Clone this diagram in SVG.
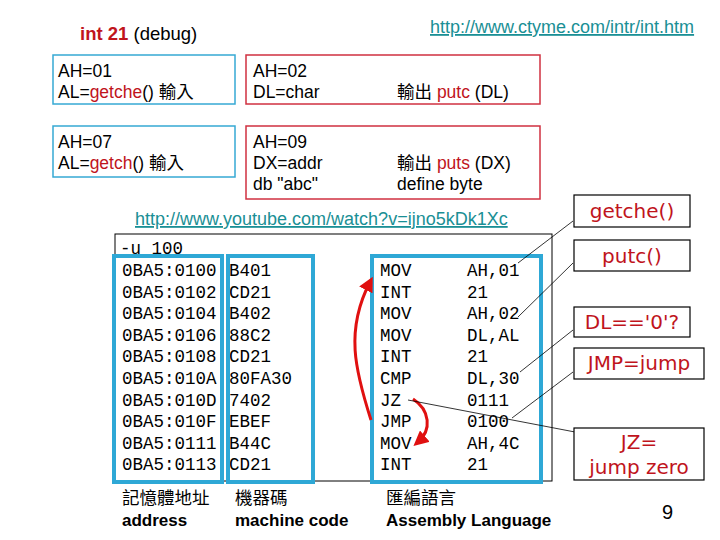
<svg xmlns="http://www.w3.org/2000/svg" width="720" height="540" viewBox="0 0 720 540">
<style>
.s{font-family:"Liberation Sans",Arial,"Noto Sans CJK TC",sans-serif;font-size:17.5px;fill:#000}
.m{font-family:"Liberation Mono","Courier New",monospace;font-size:17.5px;fill:#000}
.r{fill:#c0141c}
.u{fill:#1a8f95;text-decoration:underline;font-family:"Liberation Sans",Arial,sans-serif;font-size:18px}
.bb{fill:none;stroke:#36a9d4;stroke-width:1.5}
.rb{fill:none;stroke:#d03040;stroke-width:1.5}
.cb{fill:#fff;stroke:#000;stroke-width:1.2}
.cl{fill:#c0141c;font-family:"DejaVu Sans",Verdana,sans-serif;font-size:20px;text-anchor:middle}
.bl{fill:none;stroke:#2ea8d6;stroke-width:4}
.ln{stroke:#000;stroke-width:0.8;fill:none}
.bt{font-weight:bold;font-size:17px}
</style>
<defs><marker id="ah" markerWidth="5" markerHeight="5" refX="3" refY="2.5" orient="auto"><path d="M0,0L5,2.5L0,5z" fill="#e01010"/></marker></defs>
<text class="s" x="80" y="40" style="font-size:18.5px"><tspan class="r" font-weight="bold">int 21</tspan> (debug)</text>
<text class="u" x="430" y="33">http://www.ctyme.com/intr/int.htm</text>
<g id="n1"><rect class="bb" x="53" y="55" width="182" height="49"/><text class="s" x="58" y="77">AH=01</text><text class="s" x="58" y="98">AL=<tspan class="r">getche</tspan>() 輸入</text></g>
<g id="n2"><rect class="rb" x="246" y="55" width="294" height="49"/><text class="s" x="253" y="77">AH=02</text><text class="s" x="253" y="98">DL=char</text><text class="s" x="397" y="98">輸出 <tspan class="r">putc</tspan> (DL)</text></g>
<g id="n3"><rect class="bb" x="53" y="126" width="182" height="51"/><text class="s" x="58" y="148">AH=07</text><text class="s" x="58" y="169">AL=<tspan class="r">getch</tspan>()  輸入</text></g>
<g id="n4"><rect class="rb" x="246" y="126" width="294" height="73"/><text class="s" x="253" y="148">AH=09</text><text class="s" x="253" y="169">DX=addr</text><text class="s" x="253" y="190">db "abc"</text><text class="s" x="397" y="169">輸出 <tspan class="r">puts</tspan> (DX)</text><text class="s" x="397" y="190">define byte</text></g>
<text class="u" x="135" y="225">http://www.youtube.com/watch?v=ijno5kDk1Xc</text>
<g id="listing">
<rect x="115" y="234" width="437" height="247" fill="#fff" stroke="#000" stroke-width="1"/>
<text class="m" x="120" y="254">-u 100</text>
<g class="m">
<text x="122" y="276">0BA5:0100</text><text x="122" y="298">0BA5:0102</text><text x="122" y="319">0BA5:0104</text><text x="122" y="341">0BA5:0106</text><text x="122" y="362">0BA5:0108</text><text x="122" y="384">0BA5:010A</text><text x="122" y="406">0BA5:010D</text><text x="122" y="427">0BA5:010F</text><text x="122" y="449">0BA5:0111</text><text x="122" y="470">0BA5:0113</text>
<text x="229" y="276">B401</text><text x="229" y="298">CD21</text><text x="229" y="319">B402</text><text x="229" y="341">88C2</text><text x="229" y="362">CD21</text><text x="229" y="384">80FA30</text><text x="229" y="406">7402</text><text x="229" y="427">EBEF</text><text x="229" y="449">B44C</text><text x="229" y="470">CD21</text>
<text x="380" y="276">MOV</text><text x="380" y="298">INT</text><text x="380" y="319">MOV</text><text x="380" y="341">MOV</text><text x="380" y="362">INT</text><text x="380" y="384">CMP</text><text x="380" y="406">JZ</text><text x="380" y="427">JMP</text><text x="380" y="449">MOV</text><text x="380" y="470">INT</text>
<text x="467" y="276">AH,01</text><text x="467" y="298">21</text><text x="467" y="319">AH,02</text><text x="467" y="341">DL,AL</text><text x="467" y="362">21</text><text x="467" y="384">DL,30</text><text x="467" y="406">0111</text><text x="467" y="427">0100</text><text x="467" y="449">AH,4C</text><text x="467" y="470">21</text>
</g>
<rect class="bl" x="114" y="256" width="108" height="226"/>
<rect class="bl" x="228" y="256" width="85" height="226"/>
<rect class="bl" x="372" y="256" width="169" height="226"/>
</g>
<g id="connectors">
<path d="M371,420 C355,370 345,330 370,282" fill="none" stroke="#e01010" stroke-width="3" marker-end="url(#ah)"/>
<path d="M413,399 C430,410 432,430 418,442" fill="none" stroke="#e01010" stroke-width="3" marker-end="url(#ah)"/>
<path class="ln" d="M518,263L573,221"/>
<path class="ln" d="M518,317L573,263"/>
<path class="ln" d="M520,372L573,330"/>
<path class="ln" d="M512,418L573,372"/>
<path class="ln" d="M408,400L575,432"/>
</g>
<g id="c1"><rect class="cb" x="574" y="195" width="116" height="32"/><text class="cl" x="632" y="218">getche()</text></g>
<g id="c2"><rect class="cb" x="574" y="240" width="116" height="31"/><text class="cl" x="632" y="263">putc()</text></g>
<g id="c3"><rect class="cb" x="574" y="307" width="116" height="30"/><text class="cl" x="632" y="329">DL=='0'?</text></g>
<g id="c4"><rect class="cb" x="574" y="348" width="130" height="31"/><text class="cl" x="639" y="370">JMP=jump</text></g>
<g id="c5"><rect class="cb" x="574" y="428" width="130" height="52"/><text class="cl" x="639" y="449">JZ=</text><text class="cl" x="639" y="474">jump zero</text></g>
<text class="s" x="122" y="504">記憶體地址</text><text class="s bt" x="122" y="526">address</text>
<text class="s" x="235" y="504">機器碼</text><text class="s bt" x="235" y="526">machine code</text>
<text class="s" x="386" y="504">匯編語言</text><text class="s bt" x="386" y="526">Assembly Language</text>
<text class="s" x="662" y="519" style="font-size:20px">9</text>
</svg>
